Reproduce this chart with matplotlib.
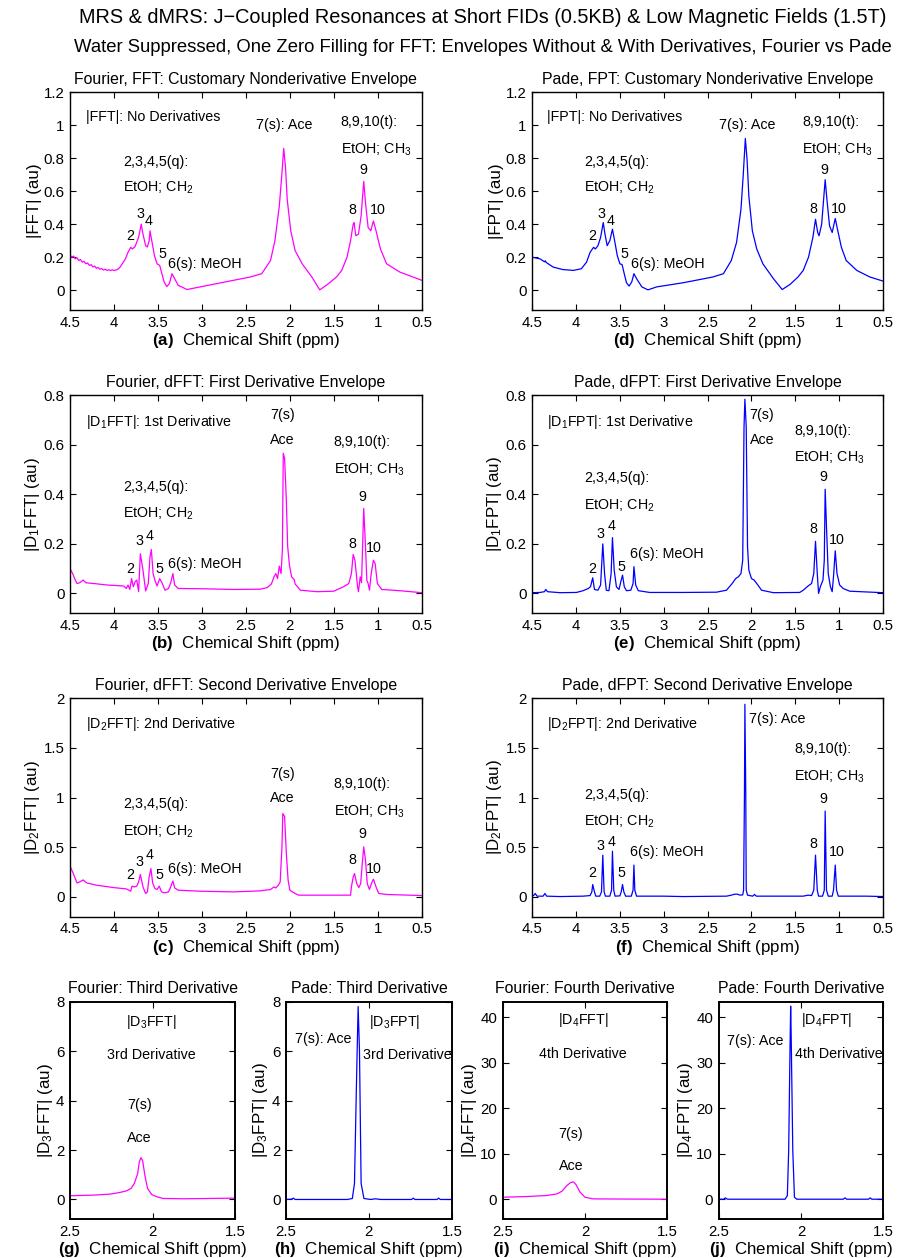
import matplotlib
matplotlib.use("Agg")
import matplotlib.pyplot as plt
from matplotlib.ticker import FuncFormatter

plt.rcParams['font.family'] = ['Liberation Sans', 'DejaVu Sans']
plt.rcParams['mathtext.fontset'] = 'custom'
plt.rcParams['mathtext.rm'] = 'Liberation Sans'
plt.rcParams['mathtext.it'] = 'Liberation Sans:italic'
plt.rcParams['mathtext.bf'] = 'Liberation Sans:bold'

MAG = '#ff00ff'
BLU = '#0000ff'

# ---- (a) |FFT| no derivatives ----
fft_ppm = [4.50, 4.48, 4.46, 4.44, 4.42, 4.40, 4.38, 4.36, 4.34, 4.32, 4.30, 4.28, 4.26,
           4.24, 4.22, 4.20, 4.18, 4.16, 4.14, 4.12, 4.10, 4.08, 4.06, 4.04, 4.02, 4.00,
           3.96, 3.93, 3.90, 3.87, 3.84, 3.81, 3.79, 3.76, 3.72, 3.69, 3.67, 3.64, 3.62,
           3.60, 3.59, 3.57, 3.54, 3.51, 3.48, 3.465, 3.43, 3.40, 3.37, 3.34, 3.31, 3.27,
           3.17, 3.02, 2.83, 2.64, 2.45, 2.32, 2.22, 2.17, 2.12, 2.09, 2.07, 2.05, 2.03,
           1.99, 1.94, 1.86, 1.75, 1.66, 1.56, 1.47, 1.41, 1.35, 1.31, 1.28, 1.27, 1.25,
           1.22, 1.19, 1.16, 1.14, 1.11, 1.08, 1.05, 1.02, 0.97, 0.90, 0.75, 0.50]
fft_val = [0.215, 0.200, 0.207, 0.190, 0.196, 0.180, 0.186, 0.170, 0.175, 0.160, 0.165,
           0.150, 0.155, 0.141, 0.146, 0.133, 0.138, 0.127, 0.131, 0.122, 0.127, 0.120,
           0.124, 0.119, 0.123, 0.120, 0.125, 0.140, 0.165, 0.190, 0.230, 0.260, 0.250,
           0.265, 0.320, 0.400, 0.340, 0.270, 0.262, 0.300, 0.360, 0.300, 0.210, 0.160,
           0.150, 0.120, 0.050, 0.022, 0.040, 0.100, 0.070, 0.030, 0.004, 0.020, 0.040,
           0.060, 0.080, 0.100, 0.180, 0.300, 0.510, 0.710, 0.860, 0.750, 0.550, 0.360,
           0.240, 0.160, 0.080, 0.002, 0.040, 0.080, 0.120, 0.200, 0.300, 0.400, 0.410,
           0.330, 0.340, 0.450, 0.660, 0.530, 0.380, 0.360, 0.420, 0.360, 0.250, 0.160,
           0.110, 0.060]

# ---- (d) |FPT| no derivatives ----
fpt_ppm = [4.50, 4.41, 4.36, 4.35, 4.34, 4.26, 4.15, 4.03, 3.94, 3.88, 3.84, 3.80, 3.78,
           3.75, 3.72, 3.69, 3.67, 3.645, 3.615, 3.585, 3.56, 3.53, 3.50, 3.475, 3.455,
           3.425, 3.395, 3.365, 3.34, 3.31, 3.25, 3.18, 3.08, 2.78, 2.44, 2.32, 2.23, 2.17,
           2.12, 2.095, 2.07, 2.05, 2.03, 1.99, 1.94, 1.87, 1.75, 1.65, 1.56, 1.47, 1.41,
           1.35, 1.30, 1.27, 1.245, 1.23, 1.20, 1.16, 1.14, 1.11, 1.08, 1.045, 1.02, 0.975,
           0.92, 0.80, 0.65, 0.50]
fpt_val = [0.200, 0.190, 0.172, 0.178, 0.168, 0.140, 0.125, 0.120, 0.130, 0.170, 0.230,
           0.260, 0.250, 0.270, 0.320, 0.410, 0.340, 0.270, 0.300, 0.370, 0.300, 0.210,
           0.160, 0.155, 0.110, 0.045, 0.025, 0.050, 0.100, 0.070, 0.020, 0.002, 0.020,
           0.045, 0.080, 0.100, 0.180, 0.290, 0.490, 0.690, 0.920, 0.790, 0.570, 0.360,
           0.250, 0.160, 0.070, 0.004, 0.035, 0.080, 0.120, 0.200, 0.320, 0.430, 0.350,
           0.330, 0.400, 0.670, 0.550, 0.390, 0.350, 0.435, 0.370, 0.260, 0.180, 0.120,
           0.080, 0.055]

# ---- (b) |D1 FFT| ----
d1fft_ppm = [4.50, 4.47, 4.44, 4.42, 4.39, 4.35, 4.32, 4.23, 4.08, 3.89, 3.86, 3.84, 3.82,
             3.80, 3.78, 3.76, 3.74, 3.72, 3.70, 3.67, 3.64, 3.61, 3.59, 3.575, 3.555,
             3.535, 3.51, 3.48, 3.45, 3.42, 3.38, 3.355, 3.33, 3.31, 3.27, 3.02, 2.64, 2.34,
             2.26, 2.21, 2.18, 2.16, 2.14, 2.12, 2.10, 2.085, 2.075, 2.06, 2.04, 2.025,
             2.005, 1.98, 1.95, 1.94, 1.88, 1.69, 1.50, 1.39, 1.33, 1.30, 1.28, 1.26, 1.23,
             1.22, 1.20, 1.185, 1.16, 1.14, 1.125, 1.11, 1.095, 1.075, 1.05, 1.03, 1.005,
             0.955, 0.75, 0.50]
d1fft_val = [0.100, 0.080, 0.054, 0.040, 0.043, 0.054, 0.043, 0.040, 0.034, 0.030, 0.020,
             0.034, 0.016, 0.060, 0.027, 0.047, 0.054, 0.007, 0.160, 0.094, 0.010, 0.040,
             0.148, 0.177, 0.080, 0.054, 0.030, 0.060, 0.040, 0.013, 0.020, 0.043, 0.080,
             0.034, 0.020, 0.019, 0.016, 0.017, 0.023, 0.038, 0.067, 0.080, 0.060, 0.110,
             0.080, 0.175, 0.565, 0.545, 0.376, 0.190, 0.114, 0.067, 0.056, 0.038, 0.013,
             0.007, 0.009, 0.027, 0.040, 0.080, 0.157, 0.134, 0.027, 0.007, 0.067, 0.043,
             0.343, 0.190, 0.054, 0.040, 0.013, 0.080, 0.134, 0.120, 0.040, 0.016, 0.011,
             0.003]

# ---- (e) |D1 FPT| ----
d1fpt_ppm = [4.50, 4.41, 4.36, 4.345, 4.325, 4.18, 3.995, 3.92, 3.86, 3.835, 3.81, 3.79,
             3.75, 3.72, 3.695, 3.675, 3.655, 3.625, 3.60, 3.585, 3.565, 3.54, 3.51, 3.49,
             3.47, 3.45, 3.425, 3.375, 3.35, 3.34, 3.32, 3.29, 3.16, 2.78, 2.40, 2.285, 2.22,
             2.18, 2.15, 2.12, 2.10, 2.085, 2.075, 2.06, 2.045, 2.03, 2.00, 1.97, 1.94,
             1.885, 1.75, 1.45, 1.41, 1.355, 1.315, 1.29, 1.27, 1.25, 1.235, 1.215, 1.185,
             1.17, 1.16, 1.145, 1.125, 1.10, 1.08, 1.065, 1.045, 1.025, 0.995, 0.955, 0.88,
             0.50]
d1fpt_val = [0.003, 0.004, 0.007, 0.016, 0.007, 0.003, 0.004, 0.011, 0.020, 0.027, 0.063,
             0.016, 0.013, 0.034, 0.200, 0.080, 0.013, 0.011, 0.080, 0.225, 0.094, 0.027,
             0.016, 0.047, 0.074, 0.027, 0.011, 0.013, 0.040, 0.108, 0.034, 0.011, 0.004,
             0.004, 0.005, 0.013, 0.040, 0.060, 0.067, 0.080, 0.134, 0.672, 0.783, 0.672,
             0.188, 0.094, 0.060, 0.054, 0.040, 0.013, 0.003, 0.004, 0.013, 0.030, 0.040,
             0.080, 0.210, 0.080, 0.000, 0.027, 0.054, 0.134, 0.420, 0.270, 0.080, 0.027,
             0.007, 0.067, 0.172, 0.080, 0.034, 0.020, 0.009, 0.003]

# ---- (c) |D2 FFT| ----
d2fft_ppm = [4.50, 4.47, 4.44, 4.42, 4.38, 4.35, 4.31, 4.20, 4.01, 3.86, 3.83, 3.81, 3.795,
             3.77, 3.74, 3.72, 3.70, 3.67, 3.64, 3.62, 3.60, 3.58, 3.56, 3.535, 3.51, 3.485,
             3.46, 3.43, 3.38, 3.355, 3.33, 3.31, 3.27, 3.02, 2.64, 2.34, 2.22, 2.18, 2.16,
             2.13, 2.11, 2.09, 2.08, 2.06, 2.04, 2.02, 2.00, 1.97, 1.94, 1.90, 1.50, 1.31,
             1.30, 1.28, 1.265, 1.24, 1.215, 1.195, 1.18, 1.16, 1.14, 1.12, 1.095, 1.07,
             1.05, 1.02, 0.99, 0.90, 0.50]
d2fft_val = [0.310, 0.250, 0.185, 0.140, 0.155, 0.170, 0.140, 0.118, 0.094, 0.080, 0.067,
             0.057, 0.108, 0.100, 0.108, 0.150, 0.225, 0.100, 0.034, 0.050, 0.200, 0.285,
             0.140, 0.084, 0.074, 0.108, 0.050, 0.040, 0.050, 0.100, 0.160, 0.090, 0.067,
             0.057, 0.050, 0.060, 0.074, 0.100, 0.090, 0.118, 0.150, 0.500, 0.840, 0.810,
             0.437, 0.168, 0.067, 0.050, 0.034, 0.017, 0.017, 0.017, 0.100, 0.200, 0.235,
             0.134, 0.094, 0.134, 0.300, 0.504, 0.370, 0.134, 0.074, 0.140, 0.178, 0.100,
             0.034, 0.024, 0.013]

# ---- (f) |D2 FPT| ----
d2fpt_ppm = [4.50, 4.48, 4.465, 4.445, 4.375, 4.355, 4.335, 4.18, 3.92, 3.84, 3.82, 3.81,
             3.79, 3.775, 3.73, 3.71, 3.695, 3.68, 3.665, 3.615, 3.595, 3.585, 3.57, 3.555,
             3.50, 3.485, 3.47, 3.455, 3.435, 3.37, 3.35, 3.34, 3.33, 3.31, 3.00, 2.78, 2.285,
             2.23, 2.19, 2.16, 2.13, 2.10, 2.09, 2.08, 2.075, 2.065, 2.06, 2.045, 1.985,
             1.965, 1.945, 1.64, 1.41, 1.355, 1.315, 1.29, 1.27, 1.25, 1.235, 1.19, 1.17,
             1.16, 1.145, 1.125, 1.08, 1.065, 1.045, 1.03, 1.01, 0.69, 0.50]
d2fpt_val = [0.007, 0.017, 0.034, 0.007, 0.007, 0.034, 0.007, 0.003, 0.007, 0.013, 0.050,
             0.124, 0.050, 0.007, 0.007, 0.050, 0.420, 0.050, 0.007, 0.007, 0.067, 0.460,
             0.067, 0.007, 0.010, 0.050, 0.124, 0.050, 0.007, 0.007, 0.067, 0.320, 0.067,
             0.007, 0.007, 0.003, 0.007, 0.017, 0.027, 0.027, 0.017, 0.020, 0.067, 1.040,
             1.940, 1.040, 0.067, 0.017, 0.007, 0.024, 0.007, 0.007, 0.007, 0.017, 0.013,
             0.067, 0.420, 0.067, 0.007, 0.007, 0.067, 0.864, 0.067, 0.007, 0.007, 0.067,
             0.320, 0.067, 0.007, 0.007, 0.003]

# ---- (g) |D3 FFT| ----
d3fft_ppm = [2.50, 2.36, 2.26, 2.20, 2.157, 2.13, 2.11, 2.09, 2.08, 2.07, 2.06, 2.045, 2.03,
             2.005, 1.975, 1.935, 1.81, 1.50]
d3fft_val = [0.15, 0.175, 0.215, 0.28, 0.35, 0.445, 0.65, 1.05, 1.52, 1.69, 1.57, 0.92,
             0.445, 0.20, 0.11, 0.04, 0.027, 0.054]

# ---- (h) |D3 FPT| ----
d3fpt_ppm = [2.50, 2.466, 2.455, 2.445, 2.13, 2.10, 2.087, 2.075, 2.065, 2.057, 2.047, 2.03,
             1.99, 1.96, 1.93, 1.743, 1.733, 1.723, 1.59, 1.58, 1.57, 1.50]
d3fpt_val = [0.0, 0.013, 0.054, 0.0, 0.0, 0.04, 0.65, 4.7, 7.8, 6.05, 0.65, 0.04, 0.0,
             0.027, 0.0, 0.0, 0.054, 0.0, 0.0, 0.054, 0.0, 0.0]

# ---- (i) |D4 FFT| ----
d4fft_ppm = [2.50, 2.354, 2.233, 2.17, 2.14, 2.11, 2.087, 2.07, 2.055, 2.03, 2.00, 1.95, 1.50]
d4fft_val = [0.44, 0.59, 0.81, 1.17, 1.76, 3.0, 3.67, 3.8, 3.23, 1.54, 0.44, 0.07, 0.0]

# ---- (j) |D4 FPT| ----
d4fpt_ppm = [2.50, 2.47, 2.46, 2.447, 2.097, 2.083, 2.075, 2.067, 2.063, 2.06, 2.05, 2.04,
             2.026, 1.743, 1.733, 1.723, 1.59, 1.58, 1.57, 1.50]
d4fpt_val = [0.0, 0.0, 0.3, 0.0, 0.0, 0.8, 10.7, 32.7, 42.4, 36.4, 10.7, 0.44, 0.0, 0.0,
             0.3, 0.0, 0.0, 0.3, 0.0, 0.0]

big_xticks = [4.5, 4, 3.5, 3, 2.5, 2, 1.5, 1, 0.5]
small_xticks = [2.5, 2, 1.5]

fig = plt.figure(figsize=(9.02, 12.58), dpi=100)
fig.text(0.535, 0.986, "MRS & dMRS: J\u2212Coupled Resonances at Short FIDs (0.5KB) & Low Magnetic Fields (1.5T)",
         ha='center', va='center', fontsize=14.3)
fig.text(0.535, 0.962, "Water Suppressed, One Zero Filling for FFT: Envelopes Without & With Derivatives, Fourier vs Pade",
         ha='center', va='center', fontsize=13.3)

gfmt = FuncFormatter(lambda v, p: '%g' % v)

NOTE_FS = 10.3
TITLE_FS = 11.4
LABEL_FS = 12.2


def make_ax(rect, x, y, color, xlim, ylim, xticks, yticks, title, tag, ylab, lw=1.0):
    ax = fig.add_axes(rect)
    ax.plot(x, y, color=color, lw=0.9)
    ax.set_xlim(xlim)
    ax.set_ylim(ylim)
    ax.set_xticks(xticks)
    ax.set_yticks(yticks)
    ax.xaxis.set_major_formatter(gfmt)
    ax.yaxis.set_major_formatter(gfmt)
    ax.tick_params(direction='in', top=True, right=True, length=4.5, width=0.8,
                   labelsize=10.8, pad=4)
    for s in ax.spines.values():
        s.set_linewidth(lw)
    ax.set_title(title, fontsize=TITLE_FS, pad=6)
    ax.set_xlabel(r"$\mathbf{(" + tag + ")}$  Chemical Shift (ppm)", fontsize=LABEL_FS, labelpad=1)
    ax.set_ylabel(ylab, fontsize=LABEL_FS, labelpad=1)
    return ax


def notes(ax, items, fs=NOTE_FS):
    for xx, yy, txt, ha in items:
        ax.text(xx, yy, txt, ha=ha, va='center', fontsize=fs)


yt_a = [0, 0.2, 0.4, 0.6, 0.8, 1, 1.2]
yt_b = [0, 0.2, 0.4, 0.6, 0.8]
yt_c = [0, 0.5, 1, 1.5, 2]

ax = make_ax([0.0776, 0.7536, 0.390, 0.173], fft_ppm, fft_val, MAG, (4.5, 0.5), (-0.12, 1.2),
             big_xticks, yt_a, "Fourier, FFT: Customary Nonderivative Envelope", "a", "|FFT| (au)")
notes(ax, [(4.32, 1.05, "|FFT|: No Derivatives", 'left'), (2.38, 1.0, "7(s): Ace", 'left'),
           (1.42, 1.02, "8,9,10(t):", 'left'), (1.42, 0.85, "EtOH; CH$_3$", 'left'),
           (3.90, 0.78, "2,3,4,5(q):", 'left'), (3.90, 0.62, "EtOH; CH$_2$", 'left'),
           (1.16, 0.73, "9", 'center'), (1.29, 0.485, "8", 'center'), (1.0, 0.485, "10", 'center'),
           (3.70, 0.46, "3", 'center'), (3.61, 0.42, "4", 'center'), (3.81, 0.33, "2", 'center'),
           (3.45, 0.22, "5", 'center'), (3.38, 0.16, "6(s): MeOH", 'left')])

ax = make_ax([0.590, 0.7536, 0.389, 0.173], fpt_ppm, fpt_val, BLU, (4.5, 0.5), (-0.12, 1.2),
             big_xticks, yt_a, "Pade, FPT: Customary Nonderivative Envelope", "d", "|FPT| (au)")
notes(ax, [(4.33, 1.05, "|FPT|: No Derivatives", 'left'), (2.37, 1.0, "7(s): Ace", 'left'),
           (1.42, 1.02, "8,9,10(t):", 'left'), (1.42, 0.85, "EtOH; CH$_3$", 'left'),
           (3.91, 0.78, "2,3,4,5(q):", 'left'), (3.91, 0.62, "EtOH; CH$_2$", 'left'),
           (1.165, 0.73, "9", 'center'), (1.29, 0.49, "8", 'center'), (1.0, 0.49, "10", 'center'),
           (3.71, 0.46, "3", 'center'), (3.61, 0.42, "4", 'center'), (3.81, 0.33, "2", 'center'),
           (3.45, 0.22, "5", 'center'), (3.375, 0.16, "6(s): MeOH", 'left')])

ax = make_ax([0.0776, 0.5125, 0.390, 0.1735], d1fft_ppm, d1fft_val, MAG, (4.5, 0.5), (-0.08, 0.8),
             big_xticks, yt_b, "Fourier, dFFT: First Derivative Envelope", "b", "|D$_1$FFT| (au)")
notes(ax, [(4.32, 0.69, "|D$_1$FFT|: 1st Derivative", 'left'), (2.08, 0.72, "7(s)", 'center'),
           (2.09, 0.62, "Ace", 'center'), (1.50, 0.61, "8,9,10(t):", 'left'),
           (1.50, 0.50, "EtOH; CH$_3$", 'left'), (3.90, 0.43, "2,3,4,5(q):", 'left'),
           (3.90, 0.32, "EtOH; CH$_2$", 'left'), (1.175, 0.39, "9", 'center'),
           (1.29, 0.20, "8", 'center'), (1.04, 0.184, "10", 'center'), (3.71, 0.21, "3", 'center'),
           (3.59, 0.23, "4", 'center'), (3.81, 0.097, "2", 'center'), (3.48, 0.097, "5", 'center'),
           (3.38, 0.12, "6(s): MeOH", 'left')])

ax = make_ax([0.590, 0.5125, 0.389, 0.1735], d1fpt_ppm, d1fpt_val, BLU, (4.5, 0.5), (-0.08, 0.8),
             big_xticks, yt_b, "Pade, dFPT: First Derivative Envelope", "e", "|D$_1$FPT| (au)")
notes(ax, [(4.33, 0.69, "|D$_1$FPT|: 1st Derivative", 'left'), (2.03, 0.72, "7(s)", 'left'),
           (2.02, 0.62, "Ace", 'left'), (1.51, 0.655, "8,9,10(t):", 'left'),
           (1.51, 0.547, "EtOH; CH$_3$", 'left'), (3.91, 0.464, "2,3,4,5(q):", 'left'),
           (3.91, 0.354, "EtOH; CH$_2$", 'left'), (1.176, 0.47, "9", 'center'),
           (1.29, 0.26, "8", 'center'), (1.03, 0.214, "10", 'center'), (3.72, 0.24, "3", 'center'),
           (3.595, 0.273, "4", 'center'), (3.81, 0.097, "2", 'center'), (3.48, 0.108, "5", 'center'),
           (3.39, 0.157, "6(s): MeOH", 'left')])

ax = make_ax([0.0776, 0.2713, 0.390, 0.1736], d2fft_ppm, d2fft_val, MAG, (4.5, 0.5), (-0.2, 2),
             big_xticks, yt_c, "Fourier, dFFT: Second Derivative Envelope", "c", "|D$_2$FFT| (au)")
notes(ax, [(4.32, 1.74, "|D$_2$FFT|: 2nd Derivative", 'left'), (2.08, 1.24, "7(s)", 'center'),
           (2.09, 1.0, "Ace", 'center'), (1.50, 1.14, "8,9,10(t):", 'left'),
           (1.50, 0.857, "EtOH; CH$_3$", 'left'), (3.90, 0.94, "2,3,4,5(q):", 'left'),
           (3.90, 0.655, "EtOH; CH$_2$", 'left'), (1.175, 0.63, "9", 'center'),
           (1.29, 0.37, "8", 'center'), (1.04, 0.276, "10", 'center'), (3.71, 0.353, "3", 'center'),
           (3.59, 0.42, "4", 'center'), (3.81, 0.225, "2", 'center'), (3.48, 0.225, "5", 'center'),
           (3.39, 0.276, "6(s): MeOH", 'left')])

ax = make_ax([0.590, 0.2713, 0.389, 0.1736], d2fpt_ppm, d2fpt_val, BLU, (4.5, 0.5), (-0.2, 2),
             big_xticks, yt_c, "Pade, dFPT: Second Derivative Envelope", "f", "|D$_2$FPT| (au)")
notes(ax, [(4.33, 1.74, "|D$_2$FPT|: 2nd Derivative", 'left'), (2.03, 1.79, "7(s): Ace", 'left'),
           (1.51, 1.49, "8,9,10(t):", 'left'), (1.51, 1.21, "EtOH; CH$_3$", 'left'),
           (3.91, 1.025, "2,3,4,5(q):", 'left'), (3.91, 0.756, "EtOH; CH$_2$", 'left'),
           (1.176, 0.99, "9", 'center'), (1.29, 0.53, "8", 'center'), (1.03, 0.447, "10", 'center'),
           (3.72, 0.514, "3", 'center'), (3.595, 0.555, "4", 'center'), (3.81, 0.245, "2", 'center'),
           (3.48, 0.245, "5", 'center'), (3.39, 0.454, "6(s): MeOH", 'left')])

ax = make_ax([0.0776, 0.0308, 0.183, 0.173], d3fft_ppm, d3fft_val, MAG, (2.5, 1.5), (-0.8, 8),
             small_xticks, [0, 2, 4, 6, 8], "Fourier: Third Derivative", "g", "|D$_3$FFT| (au)", lw=1.4)
notes(ax, [(2.01, 7.19, "|D$_3$FFT|", 'center'), (2.005, 5.84, "3rd Derivative", 'center'),
           (2.08, 3.82, "7(s)", 'center'), (2.08, 2.50, "Ace", 'center')])

ax = make_ax([0.317, 0.0308, 0.184, 0.173], d3fpt_ppm, d3fpt_val, BLU, (2.5, 1.5), (-0.8, 8),
             small_xticks, [0, 2, 4, 6, 8], "Pade: Third Derivative", "h", "|D$_3$FPT| (au)", lw=1.4)
notes(ax, [(2.0, 7.19, "|D$_3$FPT|", 'left'), (2.035, 5.84, "3rd Derivative", 'left'),
           (2.445, 6.49, "7(s): Ace", 'left')])

ax = make_ax([0.5573, 0.0308, 0.1825, 0.173], d4fft_ppm, d4fft_val, MAG, (2.5, 1.5), (-4.4, 43.4),
             small_xticks, [0, 10, 20, 30, 40], "Fourier: Fourth Derivative", "i", "|D$_4$FFT| (au)", lw=1.4)
notes(ax, [(2.01, 39.3, "|D$_4$FFT|", 'center'), (2.01, 31.9, "4th Derivative", 'center'),
           (2.085, 14.4, "7(s)", 'center'), (2.085, 7.3, "Ace", 'center')])

ax = make_ax([0.7968, 0.0308, 0.1825, 0.173], d4fpt_ppm, d4fpt_val, BLU, (2.5, 1.5), (-4.4, 43.4),
             small_xticks, [0, 10, 20, 30, 40], "Pade: Fourth Derivative", "j", "|D$_4$FPT| (au)", lw=1.4)
notes(ax, [(2.0, 39.3, "|D$_4$FPT|", 'left'), (2.036, 31.9, "4th Derivative", 'left'),
           (2.447, 34.8, "7(s): Ace", 'left')])

fig.savefig("out.png", dpi=100)
